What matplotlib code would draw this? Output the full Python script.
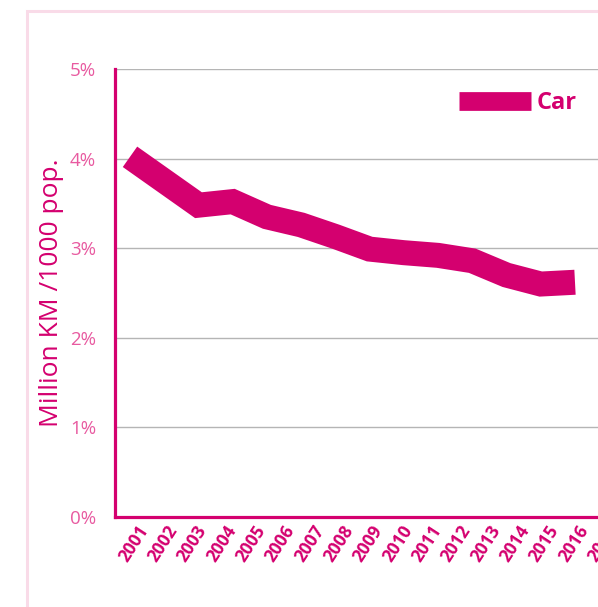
import matplotlib
matplotlib.use("Agg")
import matplotlib.pyplot as plt
from matplotlib.patches import Rectangle

# tick labels on the category axis
years = ["2001", "2002", "2003", "2004", "2005", "2006", "2007", "2008", "2009",
         "2010", "2011", "2012", "2013", "2014", "2015", "2016", "2017"]
# car line (percent)
car_share = [4.02, 3.75, 3.48, 3.52, 3.35, 3.26, 3.13, 2.99, 2.95, 2.92, 2.86, 2.70, 2.60, 2.62]
y_ticks = [0, 1, 2, 3, 4, 5]

MAGENTA = "#d4006f"
PINK = "#e85aa0"

plt.rcParams["font.family"] = ["Open Sans", "DejaVu Sans"]

fig = plt.figure(figsize=(5.98, 6.07), dpi=100)
W, H = 598, 607

# light pink frame round the chart (runs off the right and bottom)
fig.add_artist(Rectangle((27 / W, -0.2), 1.5, 1.2 - 11 / H, transform=fig.transFigure,
                         fill=False, ec="#f9dbe8", lw=2.2))

ax = fig.add_axes([115 / W, 90 / H, 525 / W, 448 / H])
ax.set_ylim(0, 5)
ax.set_yticks(y_ticks)
ax.set_yticklabels([f"{t}%" for t in y_ticks], color=PINK, fontsize=13.5)
ax.grid(axis="y", color="#b5b5b5", lw=1)
ax.set_axisbelow(True)

ax.set_xticks(range(len(years)))
ax.set_xlim(-1, -1 + 525 / 29.33)
ax.set_xticklabels(years, rotation=57, ha="right", va="center", rotation_mode="anchor",
                   fontsize=12.5, fontweight="bold", color=MAGENTA)
ax.tick_params(axis="both", length=0)
ax.tick_params(axis="x", pad=7)
ax.tick_params(axis="y", pad=13.5)

for side in ["top", "right"]:
    ax.spines[side].set_visible(False)
for side in ["left", "bottom"]:
    ax.spines[side].set_color(MAGENTA)
    ax.spines[side].set_linewidth(2.3)

ax.set_ylabel("Million KM /1000 pop.", color=MAGENTA, fontsize=19)
ax.yaxis.set_label_coords(-0.097, 0.5)

# the line has its own x scale
ax2 = ax.twiny()
ax2.plot(range(len(car_share)), car_share, color=MAGENTA, lw=18,
         solid_capstyle="butt", solid_joinstyle="miter", label="Car")
ax2.set_xlim(-15 / 34.23, -15 / 34.23 + 525 / 34.23)
ax2.set_ylim(0, 5)
ax2.set_xticks([])
for s in ax2.spines.values():
    s.set_visible(False)

leg = ax2.legend(loc="center left", bbox_to_anchor=(459 / W, 1 - 103 / H),
                 bbox_transform=fig.transFigure, frameon=False, handlelength=3.05,
                 handletextpad=0.25, borderpad=0, borderaxespad=0,
                 prop={"size": 17, "weight": "bold"})
for t in leg.get_texts():
    t.set_color(MAGENTA)
for h in leg.get_lines():
    h.set_linewidth(13.5)

fig.savefig("out.png", dpi=100)
